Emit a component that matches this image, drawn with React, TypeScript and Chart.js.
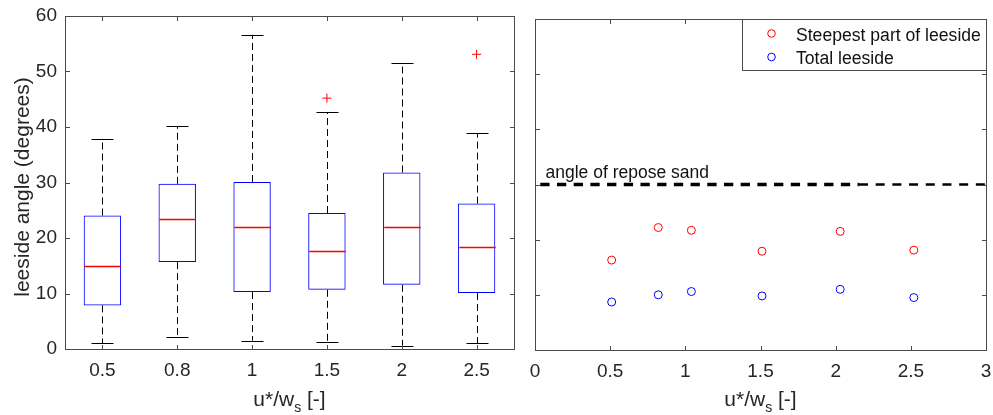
import React, { useEffect, useRef } from 'react';
import { Chart, registerables } from 'chart.js';

Chart.register(...registerables);

// ---------------- data ----------------
const CATEGORIES = ['0.5', '0.8', '1', '1.5', '2', '2.5'];
const BOX_Q1 = [7.85, 15.66, 10.26, 10.67, 11.57, 10.08];
const BOX_Q3 = [24.05, 29.76, 30.1, 24.5, 31.8, 26.2];
const BOX_MEDIAN = [14.87, 23.4, 22.07, 17.57, 22.07, 18.36];
const WHISKER_LOW = [1.08, 2.2, 1.5, 1.26, 0.47, 1.08];
const WHISKER_HIGH = [37.8, 40.2, 56.6, 42.7, 51.5, 38.9];
const OUTLIER_CATEGORIES = ['1.5', '2.5'];
const OUTLIER_VALUES = [45.2, 53.1];

const Y_TICKS = [0, 10, 20, 30, 40, 50, 60];
const RIGHT_X_TICKS = [0, 0.5, 1, 1.5, 2, 2.5, 3];

const SCATTER_X = [0.51, 0.82, 1.04, 1.51, 2.03, 2.52];
const STEEPEST = [16.3, 22.2, 21.7, 17.9, 21.5, 18.1];
const TOTAL = [8.7, 10.0, 10.6, 9.8, 11.0, 9.5];
const SERIES_LABELS = ['Steepest part of leeside', 'Total leeside'];

const REPOSE_ANGLE = 30;
const REPOSE_X = [0.035, 2.155, 3];
const REPOSE_LABEL = 'angle of repose sand';
const REPOSE_LABEL_POS = { x: 0.07, y: 31.2 };

const Y_TITLE = 'leeside angle (degrees)';
const X_TITLE_MAIN = 'u*/w';
const X_TITLE_SUB = 's';
const X_TITLE_TAIL = ' [-]';

// ---------------- style ----------------
const FAMILY = '"Liberation Sans", Arial, Helvetica, sans-serif';
const TEXT_COLOR = '#262626';
const AXIS_COLOR = '#4a4a4a';
const RED = '#ff0000';
const BLUE = '#0000ff';

const fnt = (s: number) => `${s}px ${FAMILY}`;

function drawFrame(chart: any) {
  const { ctx, chartArea, scales } = chart;
  const { left, right, top, bottom } = chartArea;
  const x = scales.x;
  const y = scales.y;
  const L = Math.floor(left) + 0.5;
  const R = Math.floor(right) + 0.5;
  const T = Math.floor(top) + 0.5;
  const B = Math.floor(bottom) + 0.5;
  const TL = 4.5;
  ctx.save();
  ctx.strokeStyle = AXIS_COLOR;
  ctx.lineWidth = 1;
  ctx.setLineDash([]);
  ctx.beginPath();
  x.ticks.forEach((_: any, i: number) => {
    const px = Math.round(x.getPixelForTick(i)) + 0.5;
    ctx.moveTo(px, B);
    ctx.lineTo(px, B - TL);
    ctx.moveTo(px, T);
    ctx.lineTo(px, T + TL);
  });
  y.ticks.forEach((_: any, i: number) => {
    const py = Math.round(y.getPixelForTick(i)) + 0.5;
    ctx.moveTo(L, py);
    ctx.lineTo(L + TL, py);
    ctx.moveTo(R, py);
    ctx.lineTo(R - TL, py);
  });
  ctx.stroke();
  ctx.strokeRect(L, T, R - L, B - T);
  ctx.restore();
}

function drawXTitle(chart: any) {
  const { ctx, chartArea } = chart;
  const cx = (chartArea.left + chartArea.right) / 2;
  const baseline = 406;
  ctx.save();
  ctx.fillStyle = TEXT_COLOR;
  ctx.textBaseline = 'alphabetic';
  ctx.textAlign = 'left';
  ctx.font = fnt(21);
  const w1 = ctx.measureText(X_TITLE_MAIN).width;
  const w3 = ctx.measureText(X_TITLE_TAIL).width;
  ctx.font = fnt(14);
  const w2 = ctx.measureText(X_TITLE_SUB).width;
  let x0 = cx - (w1 + w2 + w3) / 2;
  ctx.font = fnt(21);
  ctx.fillText(X_TITLE_MAIN, x0, baseline);
  x0 += w1;
  ctx.font = fnt(14);
  ctx.fillText(X_TITLE_SUB, x0, baseline + 6);
  x0 += w2;
  ctx.font = fnt(21);
  ctx.fillText(X_TITLE_TAIL, x0, baseline);
  ctx.restore();
}

const boxPlugin = {
  id: 'boxExtras',
  afterDatasetsDraw(chart: any) {
    const { ctx, scales } = chart;
    const x = scales.x;
    const y = scales.y;
    const catW = x.getPixelForValue(1) - x.getPixelForValue(0);
    const capHalf = catW * 0.147;
    const boxHalf = catW * 0.25;
    ctx.save();
    CATEGORIES.forEach((_, i) => {
      const cx = Math.round(x.getPixelForValue(i)) + 0.5;
      // whiskers
      ctx.strokeStyle = '#000';
      ctx.lineWidth = 1;
      ctx.setLineDash([7, 4]);
      ctx.beginPath();
      ctx.moveTo(cx, y.getPixelForValue(BOX_Q3[i]));
      ctx.lineTo(cx, y.getPixelForValue(WHISKER_HIGH[i]));
      ctx.stroke();
      ctx.beginPath();
      ctx.moveTo(cx, y.getPixelForValue(BOX_Q1[i]));
      ctx.lineTo(cx, y.getPixelForValue(WHISKER_LOW[i]));
      ctx.stroke();
      ctx.setLineDash([]);
      // caps
      ctx.beginPath();
      const hi = Math.round(y.getPixelForValue(WHISKER_HIGH[i])) + 0.5;
      const lo = Math.round(y.getPixelForValue(WHISKER_LOW[i])) + 0.5;
      ctx.moveTo(cx - capHalf, hi);
      ctx.lineTo(cx + capHalf, hi);
      ctx.moveTo(cx - capHalf, lo);
      ctx.lineTo(cx + capHalf, lo);
      ctx.stroke();
      // median
      const md = Math.round(y.getPixelForValue(BOX_MEDIAN[i])) + 0.5;
      ctx.strokeStyle = RED;
      ctx.lineWidth = 1.3;
      ctx.beginPath();
      ctx.moveTo(cx - boxHalf + 0.5, md);
      ctx.lineTo(cx + boxHalf - 0.5, md);
      ctx.stroke();
    });
    ctx.restore();
  },
  afterDraw(chart: any) {
    drawFrame(chart);
    drawXTitle(chart);
    const { ctx, chartArea } = chart;
    ctx.save();
    ctx.fillStyle = TEXT_COLOR;
    ctx.font = fnt(21);
    ctx.textAlign = 'center';
    ctx.textBaseline = 'alphabetic';
    ctx.translate(29, (chartArea.top + chartArea.bottom) / 2 + 4.5);
    ctx.rotate(-Math.PI / 2);
    ctx.fillText(Y_TITLE, 0, 0);
    ctx.restore();
  },
};

const scatterPlugin = {
  id: 'scatterExtras',
  afterDraw(chart: any) {
    drawFrame(chart);
    drawXTitle(chart);
    const { ctx, chartArea, scales } = chart;
    const x = scales.x;
    const y = scales.y;
    // repose label
    ctx.save();
    ctx.fillStyle = '#111';
    ctx.font = fnt(17.5);
    ctx.textAlign = 'left';
    ctx.textBaseline = 'alphabetic';
    ctx.fillText(REPOSE_LABEL, x.getPixelForValue(REPOSE_LABEL_POS.x), y.getPixelForValue(REPOSE_LABEL_POS.y));
    ctx.restore();
    // legend
    const R = Math.floor(chartArea.right) + 0.5;
    const T = Math.floor(chartArea.top) + 0.5;
    const Lg = R - 244;
    const Bg = T + 51;
    ctx.save();
    ctx.fillStyle = '#fff';
    ctx.fillRect(Lg, T, R - Lg, Bg - T);
    ctx.strokeStyle = AXIS_COLOR;
    ctx.lineWidth = 1;
    ctx.strokeRect(Lg, T, R - Lg, Bg - T);
    const colors = [RED, BLUE];
    ctx.font = fnt(17.6);
    ctx.textAlign = 'left';
    ctx.textBaseline = 'alphabetic';
    SERIES_LABELS.forEach((lab, i) => {
      const my = T + 14 + i * 23.5;
      ctx.strokeStyle = colors[i];
      ctx.beginPath();
      ctx.arc(Lg + 29, my, 3.8, 0, Math.PI * 2);
      ctx.stroke();
      ctx.fillStyle = '#111';
      ctx.fillText(lab, Lg + 53.5, T + 21.5 + i * 23);
    });
    ctx.restore();
  },
};

const tickFont = { family: FAMILY, size: 19 };

export default function App() {
  const leftRef = useRef<HTMLCanvasElement | null>(null);
  const rightRef = useRef<HTMLCanvasElement | null>(null);

  useEffect(() => {
    const left = new Chart(leftRef.current as HTMLCanvasElement, {
      type: 'bar',
      data: {
        labels: CATEGORIES,
        datasets: [
          {
            type: 'bar',
            data: CATEGORIES.map((_, i) => [BOX_Q1[i], BOX_Q3[i]]),
            backgroundColor: 'rgba(0,0,0,0)',
            borderColor: BLUE,
            borderWidth: 1,
            borderSkipped: false,
            barPercentage: 0.5,
            categoryPercentage: 1,
          } as any,
          {
            type: 'line',
            data: OUTLIER_CATEGORIES.map((c, i) => ({ x: c, y: OUTLIER_VALUES[i] })),
            showLine: false,
            pointStyle: 'cross',
            pointRadius: 4.5,
            borderColor: RED,
            backgroundColor: RED,
            borderWidth: 1,
          } as any,
        ],
      },
      options: {
        responsive: false,
        maintainAspectRatio: false,
        animation: false,
        events: [],
        layout: { padding: { left: 0, top: 16, right: 11, bottom: 0 } },
        plugins: { legend: { display: false }, tooltip: { enabled: false } },
        scales: {
          x: {
            type: 'category',
            offset: true,
            grid: { display: false, drawTicks: false },
            border: { display: false },
            ticks: { font: tickFont, color: TEXT_COLOR, padding: 10, autoSkip: false, maxRotation: 0 },
            afterFit: (s: any) => { s.height = 66; s.paddingLeft = 0; s.paddingRight = 0; },
          },
          y: {
            type: 'linear',
            min: 0,
            max: 60,
            afterBuildTicks: (s: any) => { s.ticks = Y_TICKS.map((v) => ({ value: v })); },
            grid: { display: false, drawTicks: false },
            border: { display: false },
            ticks: { font: tickFont, color: TEXT_COLOR, padding: 8, callback: (v: any) => String(v) },
            afterFit: (s: any) => { s.width = 65; s.paddingTop = 0; s.paddingBottom = 0; },
          },
        },
      } as any,
      plugins: [boxPlugin],
    });

    const right = new Chart(rightRef.current as HTMLCanvasElement, {
      type: 'scatter',
      data: {
        datasets: [
          {
            label: SERIES_LABELS[0],
            data: SCATTER_X.map((x, i) => ({ x, y: STEEPEST[i] })),
            pointStyle: 'circle',
            pointRadius: 4,
            borderColor: RED,
            backgroundColor: 'rgba(0,0,0,0)',
            borderWidth: 1,
          },
          {
            label: SERIES_LABELS[1],
            data: SCATTER_X.map((x, i) => ({ x, y: TOTAL[i] })),
            pointStyle: 'circle',
            pointRadius: 4,
            borderColor: BLUE,
            backgroundColor: 'rgba(0,0,0,0)',
            borderWidth: 1,
          },
          {
            type: 'line',
            data: [{ x: REPOSE_X[0], y: REPOSE_ANGLE }, { x: REPOSE_X[1], y: REPOSE_ANGLE }],
            borderColor: '#000',
            borderWidth: 3.5,
            borderDash: [9.3, 7.4],
            borderCapStyle: 'butt',
            pointRadius: 0,
            showLine: true,
            fill: false,
          } as any,
          {
            type: 'line',
            data: [{ x: REPOSE_X[1], y: REPOSE_ANGLE }, { x: REPOSE_X[2], y: REPOSE_ANGLE }],
            borderColor: '#000',
            borderWidth: 2.3,
            borderDash: [9, 7.7],
            borderCapStyle: 'butt',
            pointRadius: 0,
            showLine: true,
            fill: false,
          } as any,
        ],
      },
      options: {
        responsive: false,
        maintainAspectRatio: false,
        animation: false,
        events: [],
        layout: { padding: { left: 10, top: 19, right: 7, bottom: 0 } },
        plugins: { legend: { display: false }, tooltip: { enabled: false } },
        scales: {
          x: {
            type: 'linear',
            min: 0,
            max: 3,
            afterBuildTicks: (s: any) => { s.ticks = RIGHT_X_TICKS.map((v) => ({ value: v })); },
            grid: { display: false, drawTicks: false },
            border: { display: false },
            ticks: { font: tickFont, color: TEXT_COLOR, padding: 10, autoSkip: false, maxRotation: 0, callback: (v: any) => String(v) },
            afterFit: (s: any) => { s.height = 65; s.paddingLeft = 0; s.paddingRight = 0; },
          },
          y: {
            type: 'linear',
            min: 0,
            max: 60,
            afterBuildTicks: (s: any) => { s.ticks = Y_TICKS.map((v) => ({ value: v })); },
            grid: { display: false, drawTicks: false },
            border: { display: false },
            ticks: { display: false },
            afterFit: (s: any) => { s.width = 0; s.paddingTop = 0; s.paddingBottom = 0; },
          },
        },
      } as any,
      plugins: [scatterPlugin],
    });

    return () => {
      left.destroy();
      right.destroy();
    };
  }, []);

  return (
    <div style={{ position: 'absolute', left: 0, top: 0, width: 993, height: 415, background: '#fff', overflow: 'hidden' }}>
      <canvas ref={leftRef} width={525} height={415} style={{ position: 'absolute', left: 0, top: 0, width: 525, height: 415 }} />
      <canvas ref={rightRef} width={468} height={415} style={{ position: 'absolute', left: 525, top: 0, width: 468, height: 415 }} />
    </div>
  );
}
